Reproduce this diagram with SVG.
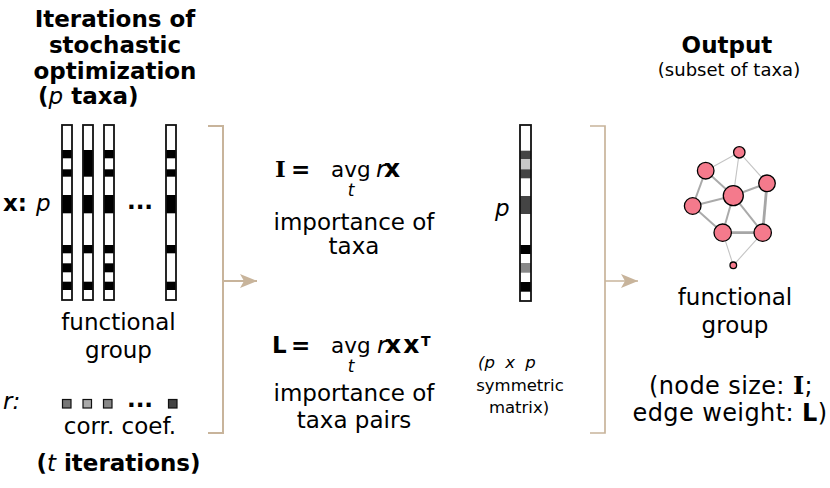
<svg xmlns="http://www.w3.org/2000/svg" width="830" height="488" viewBox="0 0 830 488">
<style>
text{font-family:"DejaVu Sans",sans-serif;fill:#000;font-size:23px}
.b{font-weight:bold}
.i{font-style:italic;font-weight:normal}
.s{font-size:17px}
.sm{font-size:16.5px}
.m{text-anchor:middle}
.sf{font-family:"DejaVu Serif",serif;font-weight:bold}
.av{font-size:21.5px}
.bx{font-weight:bold;font-size:25px}
.pl{font-size:24px;letter-spacing:0.4px}
.cw{fill:#fff}
.co{fill:none;stroke:#111;stroke-width:1.8}
.bd{fill:#000}
.sq{stroke:#111;stroke-width:1.2}
.br{fill:none;stroke:#c8b49b}
.e1{stroke:#c4c4c4;stroke-width:1.1}
.e2{stroke:#aaa;stroke-width:2}
.e3{stroke:#a6a6a6;stroke-width:2.8}
.nd{fill:#f47a8c;stroke:#000;stroke-width:1.3}
</style>
<defs>
<marker id="ah" viewBox="0 0 17 14" refX="17" refY="7" markerWidth="17" markerHeight="14" markerUnits="userSpaceOnUse" orient="auto">
<path d="M0,0 L17,7 L0,14 L4,7 Z" fill="#c8b49b"/>
</marker>
<g id="colA">
<rect class="cw" x="0" y="125" width="10" height="175"/>
<rect class="bd" x="0" y="150" width="10" height="8.3"/>
<rect class="bd" x="0" y="169.3" width="10" height="7.4"/>
<rect class="bd" x="0" y="195" width="10" height="18.3"/>
<rect class="bd" x="0" y="245" width="10" height="8.3"/>
<rect class="bd" x="0" y="263.3" width="10" height="9"/>
<rect class="bd" x="0" y="281.7" width="10" height="8.3"/>
<rect class="co" x="0" y="125" width="10" height="175"/>
</g>
</defs>

<g id="title">
<text class="b m" x="115" y="27">Iterations of</text>
<text class="b m" x="115" y="53">stochastic</text>
<text class="b m" x="115" y="79">optimization</text>
<text class="b" x="38" y="104">(<tspan class="i">p</tspan> taxa)</text>
</g>

<g id="x-matrix">
<text class="b" x="3" y="211">x:</text>
<text class="i" x="36" y="211">p</text>
<use href="#colA" x="62"/>
<g id="col2">
<rect class="cw" x="83" y="125" width="10" height="175"/>
<rect class="bd" x="83" y="150" width="10" height="26.7"/>
<rect class="bd" x="83" y="195" width="10" height="18.3"/>
<rect class="bd" x="83" y="245" width="10" height="8.3"/>
<rect class="bd" x="83" y="281.7" width="10" height="8.3"/>
<rect class="co" x="83" y="125" width="10" height="175"/>
</g>
<use href="#colA" x="104"/>
<text class="b m" x="140" y="209">...</text>
<g id="col4">
<rect class="cw" x="166" y="125" width="10" height="175"/>
<rect class="bd" x="166" y="150" width="10" height="8.3"/>
<rect class="bd" x="166" y="169.3" width="10" height="7.4"/>
<rect class="bd" x="166" y="195" width="10" height="18.3"/>
<rect class="bd" x="166" y="245" width="10" height="8.3"/>
<rect class="bd" x="166" y="281.7" width="10" height="8.3"/>
<rect class="co" x="166" y="125" width="10" height="175"/>
</g>
<text class="m" x="118.5" y="330">functional</text>
<text class="m" x="118.5" y="358">group</text>
</g>

<g id="r-row">
<text class="i" x="3" y="409">r:</text>
<rect class="sq" x="62.5" y="399.5" width="8.5" height="8.5" fill="#777"/>
<rect class="sq" x="83" y="399.5" width="8.5" height="8.5" fill="#aaa"/>
<rect class="sq" x="103.5" y="399.5" width="8.5" height="8.5" fill="#888"/>
<text class="b m" x="140" y="407">...</text>
<rect class="sq" x="168.5" y="399.5" width="8.5" height="8.5" fill="#444"/>
<text class="m" x="120" y="434">corr. coef.</text>
<text class="b m" x="118.5" y="471">(<tspan class="i">t</tspan> iterations)</text>
</g>

<g id="formula-I">
<text class="sf" x="275" y="177">I</text>
<text class="b" x="291" y="177">=</text>
<text class="av" x="331" y="177">avg</text>
<text class="i" x="376" y="177">r</text>
<text class="bx" x="384" y="177">x</text>
<text class="i s m" x="351" y="196">t</text>
<text class="m" x="354" y="230">importance of</text>
<text class="m" x="354" y="254">taxa</text>
</g>

<g id="formula-L">
<text class="b" x="272" y="353">L</text>
<text class="b" x="291" y="353">=</text>
<text class="av" x="331" y="353">avg</text>
<text class="i" x="377" y="353">r</text>
<text class="bx" x="385" y="353" letter-spacing="2">xx</text>
<text class="b" x="421" y="346" style="font-size:14px">T</text>
<text class="i s m" x="351" y="372">t</text>
<text class="m" x="354" y="401">importance of</text>
<text class="m" x="354" y="428">taxa pairs</text>
<text class="i sm" x="478" y="368" word-spacing="5">(p x p</text>
<text class="sm m" x="520" y="391">symmetric</text>
<text class="sm m" x="519" y="413">matrix)</text>
</g>

<g id="vector-I">
<text class="i" x="495" y="216">p</text>
<rect class="cw" x="520" y="125" width="11" height="176"/>
<rect x="520" y="150.7" width="11" height="8.6" fill="#444"/>
<rect x="520" y="159.3" width="11" height="10" fill="#c8c8c8"/>
<rect x="520" y="169.3" width="11" height="9" fill="#444"/>
<rect x="520" y="196" width="11" height="18" fill="#444"/>
<rect x="520" y="245" width="11" height="9" fill="#000"/>
<rect x="520" y="263" width="11" height="9.7" fill="#888"/>
<rect x="520" y="282" width="11" height="9.7" fill="#000"/>
<rect class="co" x="520" y="125" width="11" height="176"/>
</g>

<g id="output">
<text class="b m" x="727" y="53">Output</text>
<text class="m" x="729" y="76" style="font-size:18px">(subset of taxa)</text>
<text class="m" x="735" y="305">functional</text>
<text class="m" x="735" y="333">group</text>
<text class="m pl" x="731" y="394">(node size: <tspan class="sf">I</tspan>;</text>
<text class="m pl" x="730" y="421">edge weight: <tspan class="b">L</tspan>)</text>
</g>

<g id="network">
<g id="edges">
<line class="e1" x1="739.3" y1="152.3" x2="705.7" y2="170.7"/>
<line class="e1" x1="739.3" y1="152.3" x2="733.3" y2="195.7"/>
<line class="e1" x1="739.3" y1="152.3" x2="767" y2="183.3"/>
<line class="e2" x1="705.7" y1="170.7" x2="733.3" y2="195.7"/>
<line class="e2" x1="705.7" y1="170.7" x2="692.7" y2="206"/>
<line class="e2" x1="733.3" y1="195.7" x2="767" y2="183.3"/>
<line class="e2" x1="733.3" y1="195.7" x2="692.7" y2="206"/>
<line class="e2" x1="733.3" y1="195.7" x2="722.7" y2="232.7"/>
<line class="e2" x1="733.3" y1="195.7" x2="762.7" y2="232.7"/>
<line class="e2" x1="692.7" y1="206" x2="722.7" y2="232.7"/>
<line class="e3" x1="722.7" y1="232.7" x2="762.7" y2="232.7"/>
<line class="e3" x1="767" y1="183.3" x2="762.7" y2="232.7"/>
<line class="e1" x1="722.7" y1="232.7" x2="733.3" y2="265.3"/>
<line class="e1" x1="762.7" y1="232.7" x2="733.3" y2="265.3"/>
</g>
<circle class="nd" cx="739.3" cy="152.3" r="5.7"/>
<circle class="nd" cx="705.7" cy="170.7" r="8.3"/>
<circle class="nd" cx="767" cy="183.3" r="8.3"/>
<circle class="nd" cx="733.3" cy="195.7" r="10"/>
<circle class="nd" cx="692.7" cy="206" r="8.3"/>
<circle class="nd" cx="722.7" cy="232.7" r="8.7"/>
<circle class="nd" cx="762.7" cy="232.7" r="8.7"/>
<circle class="nd" cx="733.3" cy="265.3" r="3.3"/>
</g>

<g id="connectors">
<path class="br" stroke-width="2" d="M208,126 H223 V433 H208"/>
<line class="br" stroke-width="2" x1="223" y1="281" x2="257" y2="281" marker-end="url(#ah)"/>
<path class="br" stroke-width="1.7" d="M590,126 H605 V433 H590"/>
<line class="br" stroke-width="1.7" x1="605" y1="281" x2="638" y2="281" marker-end="url(#ah)"/>
</g>
</svg>
